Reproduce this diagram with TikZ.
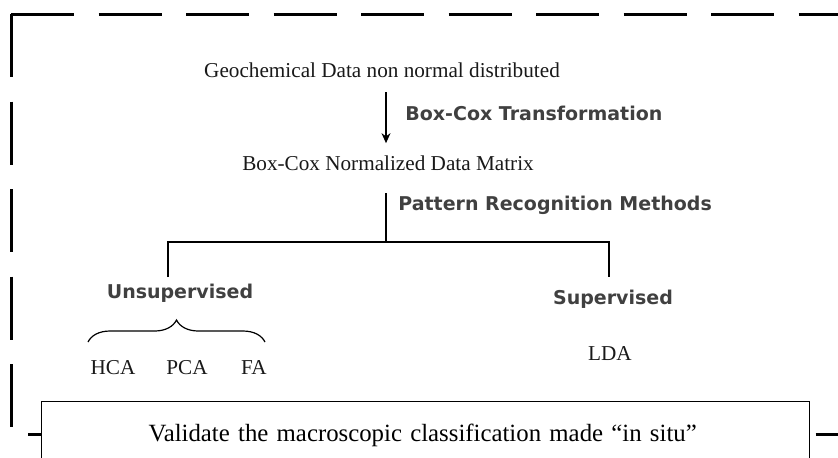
\documentclass[tikz,border=0pt]{standalone}
\usepackage{fontspec}
\setmainfont{Liberation Serif}
\newfontfamily\labelsans{DejaVu Sans}
\usetikzlibrary{arrows.meta,decorations.pathreplacing}
\definecolor{labelgray}{HTML}{404040}

\begin{document}
\begin{tikzpicture}[x=0.5pt,y=-0.5pt,font=\fontsize{10.6}{13}\selectfont,>={Stealth[length=5pt,width=4.5pt]},
 txt/.style={inner sep=0pt,text=black!90},
 method/.style={inner sep=0pt,text=labelgray,font=\labelsans\bfseries\fontsize{9.5}{11}\selectfont},
 frame/.style={line width=1.5pt,dash pattern=on 31.5pt off 12.25pt}]
\useasboundingbox (0,0) rectangle (838,457);\clip (0,0) rectangle (838,457);
\draw[frame] (11,14)--(11,434);\draw[frame] (11,14)--(860,14);\draw[frame] (28,434)--(860,434);
\node[txt] (geo) at (382,70){Geochemical Data non normal distributed};\node[method,anchor=west] (bct) at (405,113){Box-Cox Transformation};
\node[txt] (norm) at (388,163){Box-Cox Normalized Data Matrix};\node[method,anchor=west] (prm) at (398,205){Pattern Recognition Methods};
\coordinate (split) at (386,242);\coordinate (stem) at (386,193);\coordinate (ul) at (168,277);\coordinate (sl) at (609,277);
\draw[->,line width=0.6pt,shorten <=7.2pt,shorten >=6pt] (geo.south -| split)--(norm.north -| split);
\draw[line width=0.6pt] (stem)--(split);\draw[line width=0.6pt] (ul)--(ul |- split)--(sl |- split)--(sl);
\node[method] (unsup) at (180,293){Unsupervised};\node[method] (sup) at (613,299){Supervised};
\node[txt,anchor=base] (hca) at (113,374){HCA};\node[txt,anchor=base] (pca) at (187,374){PCA};\node[txt,anchor=base] (fa) at (254,374){FA};\node[txt,anchor=base] (lda) at (610,360){LDA};
\draw[line width=0.6pt,decorate,decoration={brace,amplitude=11pt}] (88,342)--(265,342);
\node[draw,fill=white,line width=0.6pt,anchor=north west,minimum width=384pt,minimum height=34pt,text width=277pt,inner xsep=53.5pt,align=left,font=\fontsize{12.4}{15}\selectfont] (valid) at (41,401){Validate the macroscopic classification made “in situ”};
\end{tikzpicture}
\end{document}
